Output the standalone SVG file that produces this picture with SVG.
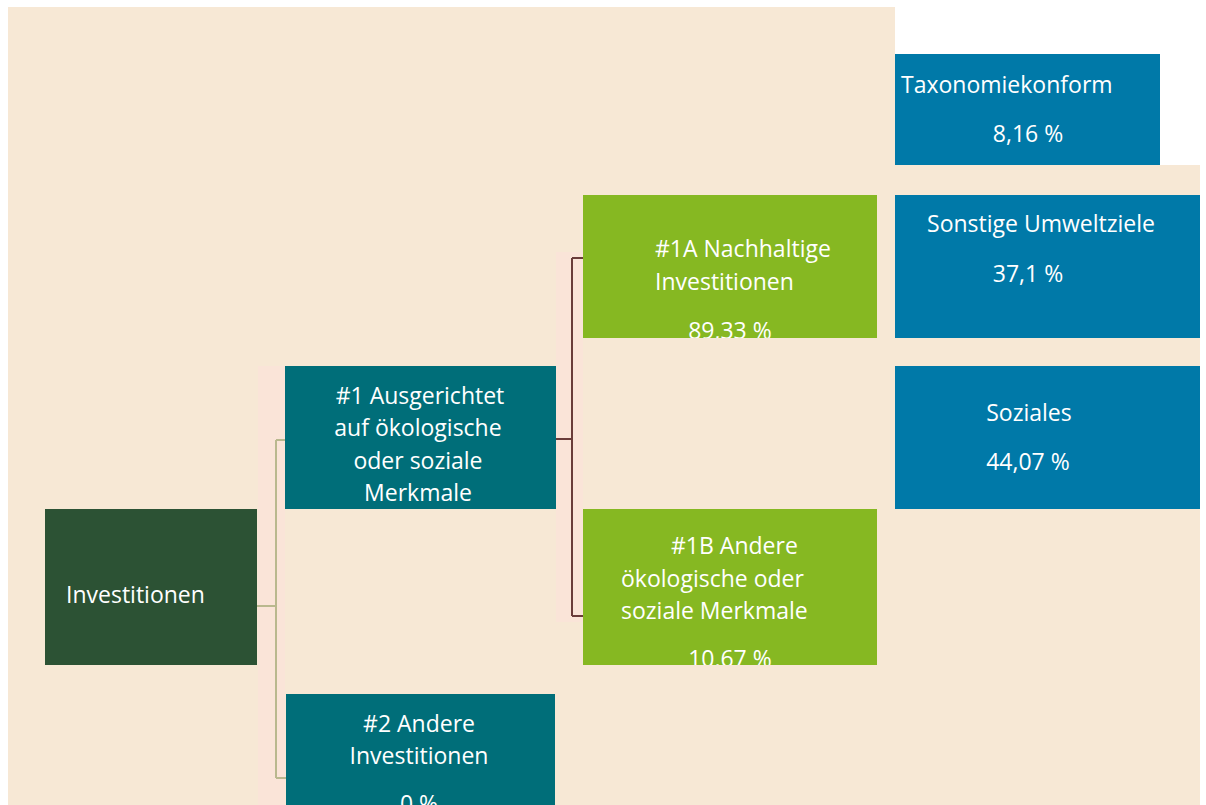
<svg xmlns="http://www.w3.org/2000/svg" width="1206" height="805" viewBox="0 0 1206 805">
  <defs>
    <style>
      .bg { fill: #F7E8D5; }
      .tint { fill: #FAE4D8; }
      .root { fill: #2C5234; }
      .teal { fill: #006E79; }
      .lime { fill: #86B822; }
      .blue { fill: #0079A8; }
      text { font-family: "Open Sans", "Noto Sans", "DejaVu Sans", sans-serif; font-size: 23px; fill: #FFFFFF; }
      .c { text-anchor: middle; }
      .l1 { fill: none; stroke: #B9B88E; stroke-width: 2; }
      .l2 { fill: none; stroke: #6A3C3A; stroke-width: 2; }
    </style>
    <clipPath id="clip1a"><rect x="583" y="195" width="294" height="143"/></clipPath>
    <clipPath id="clip1b"><rect x="583" y="509" width="294" height="156"/></clipPath>
    <clipPath id="clip2"><rect x="286" y="694" width="269" height="111"/></clipPath>
  </defs>

  <g id="background">
    <rect x="0" y="0" width="1206" height="805" fill="#FFFFFF"/>
    <rect class="bg" x="8" y="7" width="887" height="798"/>
    <rect class="bg" x="895" y="165" width="305" height="640"/>
    <rect class="tint" x="258" y="366" width="27" height="439"/>
    <rect class="tint" x="556" y="252" width="27" height="370"/>
  </g>

  <g id="connectors">
    <path class="l1" d="M257 606 H276 M276 440 V778 M276 440 H285 M276 778 H286"/>
    <path class="l2" d="M556 439 H572 M572 258 V616 M572 258 H583 M572 616 H583"/>
  </g>

  <g id="node-investitionen">
    <rect class="root" x="45" y="509" width="212" height="156"/>
    <text x="66" y="603">Investitionen</text>
  </g>

  <g id="node-1">
    <rect class="teal" x="285" y="366" width="271" height="143"/>
    <text class="c" x="420" y="404">#1 Ausgerichtet</text>
    <text class="c" x="418" y="436">auf ökologische</text>
    <text class="c" x="418" y="469">oder soziale</text>
    <text class="c" x="418" y="501">Merkmale</text>
  </g>

  <g id="node-2">
    <rect class="teal" x="286" y="694" width="269" height="111"/>
    <g clip-path="url(#clip2)">
      <text class="c" x="419" y="732">#2 Andere</text>
      <text class="c" x="419" y="764">Investitionen</text>
      <text class="c" x="419" y="812">0 %</text>
    </g>
  </g>

  <g id="node-1a">
    <rect class="lime" x="583" y="195" width="294" height="143"/>
    <g clip-path="url(#clip1a)">
      <text x="655" y="257">#1A Nachhaltige</text>
      <text x="655" y="290">Investitionen</text>
      <text class="c" x="730" y="339">89,33 %</text>
    </g>
  </g>

  <g id="node-1b">
    <rect class="lime" x="583" y="509" width="294" height="156"/>
    <g clip-path="url(#clip1b)">
      <text x="671" y="554">#1B Andere</text>
      <text x="621" y="587">ökologische oder</text>
      <text x="621" y="619">soziale Merkmale</text>
      <text class="c" x="730" y="667">10,67 %</text>
    </g>
  </g>

  <g id="node-taxonomie">
    <rect class="blue" x="895" y="54" width="265" height="111"/>
    <text x="901" y="93">Taxonomiekonform</text>
    <text class="c" x="1028" y="142">8,16 %</text>
  </g>

  <g id="node-sonstige">
    <rect class="blue" x="895" y="195" width="305" height="143"/>
    <text class="c" x="1041" y="232">Sonstige Umweltziele</text>
    <text class="c" x="1028" y="282">37,1 %</text>
  </g>

  <g id="node-soziales">
    <rect class="blue" x="895" y="366" width="305" height="143"/>
    <text class="c" x="1029" y="421">Soziales</text>
    <text class="c" x="1028" y="470">44,07 %</text>
  </g>
</svg>
